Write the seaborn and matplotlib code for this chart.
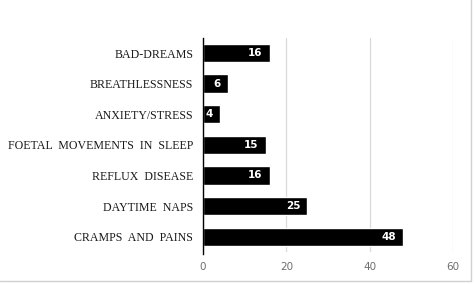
import matplotlib
matplotlib.use("Agg")
import matplotlib.pyplot as plt
import seaborn as sns
import pandas as pd
from matplotlib.lines import Line2D

# Sleep complaints reported during pregnancy
categories = [
    "BAD-DREAMS",
    "BREATHLESSNESS",
    "ANXIETY/STRESS",
    "FOETAL  MOVEMENTS  IN  SLEEP",
    "REFLUX  DISEASE",
    "DAYTIME  NAPS",
    "CRAMPS  AND  PAINS",
]
counts = [16, 6, 4, 15, 16, 25, 48]
x_ticks = [0, 20, 40, 60]

df = pd.DataFrame({"category": categories, "count": counts})

sns.set_theme(style="white")
fig = plt.figure(figsize=(4.74, 2.84), dpi=100)
ax = fig.add_axes([0.4283, 0.1127, 0.5274, 0.7545])

sns.barplot(data=df, y="category", x="count", orient="h", color="black",
            width=0.6, saturation=1, ax=ax, order=categories)

ax.set_xlim(0, 60)
ax.set_xticks(x_ticks)
ax.set_xlabel("")
ax.set_ylabel("")
ax.xaxis.grid(True, color="#d9d9d9", linewidth=0.9)
ax.set_axisbelow(True)

for side in ("top", "right", "bottom"):
    ax.spines[side].set_visible(False)
ax.spines["left"].set_color("black")
ax.spines["left"].set_linewidth(1.0)
ax.spines["left"].set_bounds(len(categories) - 0.5 + 0.05, -0.5)

ax.tick_params(axis="x", length=0, colors="#6e6e6e", labelsize=7.5, pad=7)
ax.tick_params(axis="y", length=0, pad=7)
for lbl in ax.get_yticklabels():
    lbl.set_fontfamily("Liberation Serif")
    lbl.set_fontsize(8.6)
    lbl.set_color("#1a1a1a")
for lbl in ax.get_xticklabels():
    lbl.set_fontfamily("DejaVu Sans")

# value labels right-aligned inside the bar ends
for i, v in enumerate(counts):
    ax.annotate(str(v), xy=(v, i), xytext=(-5, 0), textcoords="offset points",
                ha="right", va="center", color="white", fontsize=7.5,
                fontweight="bold")

# light frame on the lower and right edges of the figure
fig.add_artist(Line2D([0.0, 0.994], [0.012, 0.012], transform=fig.transFigure,
                      color="#d0d0d0", linewidth=1.0))
fig.add_artist(Line2D([0.994, 0.994], [0.012, 1.0], transform=fig.transFigure,
                      color="#d0d0d0", linewidth=1.0))

fig.savefig("out.png", dpi=100)
